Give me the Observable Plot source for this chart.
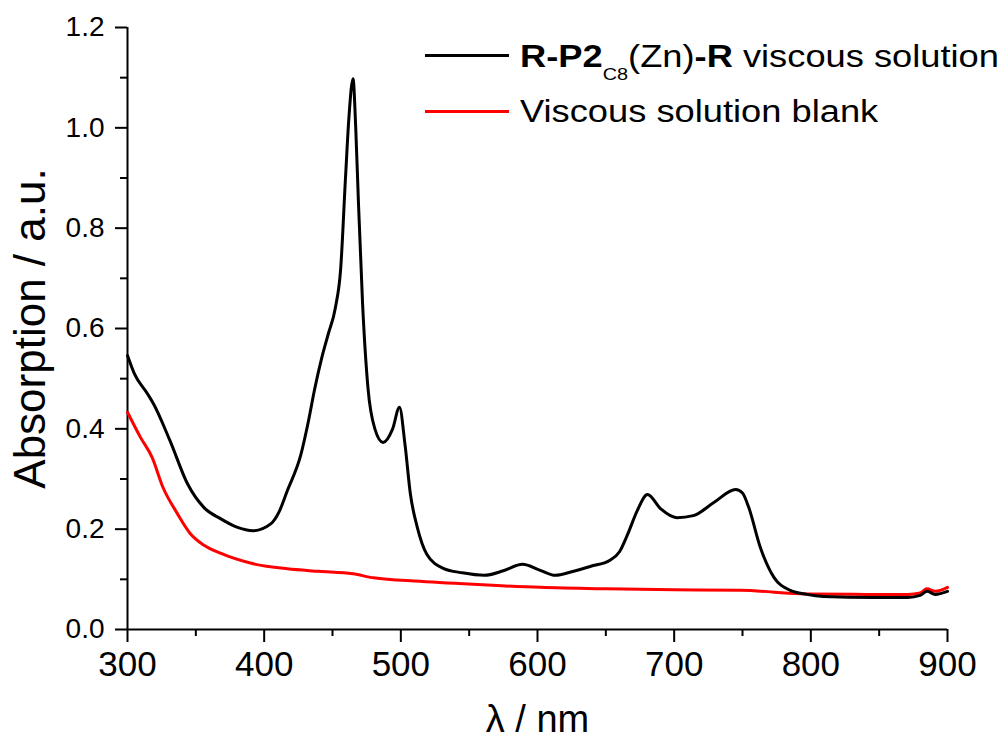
<!DOCTYPE html>
<html>
<head>
<meta charset="utf-8">
<script src="https://cdn.jsdelivr.net/npm/d3@7"></script>
<script src="https://cdn.jsdelivr.net/npm/@observablehq/plot@0.6"></script>
<style>
  body { margin: 0; background: white; }
  #wrap { position: relative; width: 1008px; height: 746px; font-family: 'Liberation Sans', Arial, sans-serif; }
  .lg-line { position: absolute; left: 425px; width: 84px; height: 3px; }
  .lg-text { position: absolute; left: 520px; font-size: 31px; line-height: 1; white-space: nowrap; transform: scaleX(1.17); transform-origin: left center; color: black; }
  .sub { font-size: 17px; position: relative; top: 13px; font-weight: normal; }
</style>
</head>
<body>
<div id="wrap"></div>
<script>
// Series: R-P2_C8(Zn)-R viscous solution (black)
const sampleX = [300, 305, 314.6, 319, 331, 344, 356, 368, 380, 392, 405, 411, 417, 427, 432, 437, 442, 447, 452, 456, 459.5, 462, 465, 467, 469, 472, 476, 481, 487, 494, 499, 503, 507, 512, 519, 531, 545, 561, 575, 589, 602, 613, 625, 639, 653, 660, 666, 673, 680.5, 690, 702, 714, 729, 745, 750, 754.6, 763, 773, 785, 797, 809, 846, 871, 880, 885, 891, 900];
const sampleY = [0.546, 0.51, 0.47, 0.45, 0.377, 0.29, 0.243, 0.221, 0.204, 0.197, 0.211, 0.235, 0.277, 0.35, 0.41, 0.48, 0.54, 0.59, 0.64, 0.72, 0.9, 1.02, 1.098, 1.0, 0.85, 0.65, 0.48, 0.40, 0.373, 0.40, 0.443, 0.37, 0.27, 0.204, 0.15, 0.122, 0.113, 0.108, 0.117, 0.13, 0.118, 0.108, 0.115, 0.126, 0.138, 0.155, 0.19, 0.237, 0.269, 0.241, 0.223, 0.227, 0.253, 0.279, 0.272, 0.243, 0.164, 0.104, 0.078, 0.07, 0.066, 0.064, 0.064, 0.068, 0.076, 0.07, 0.076];
// Series: Viscous solution blank (red)
const blankX = [300, 309.5, 318, 326, 336.5, 346, 356, 368, 392, 417, 440, 465, 480, 514, 560, 602, 650, 700, 748.5, 797.6, 840, 871, 880, 885, 891, 900];
const blankY = [0.433, 0.383, 0.343, 0.283, 0.231, 0.191, 0.168, 0.152, 0.131, 0.121, 0.116, 0.111, 0.103, 0.096, 0.089, 0.084, 0.081, 0.079, 0.078, 0.071, 0.07, 0.07, 0.073, 0.081, 0.076, 0.084];

const xMajor = [300, 400, 500, 600, 700, 800, 900];
const xMinor = [350, 450, 550, 650, 750, 850];
const yMajor = [0, 0.2, 0.4, 0.6, 0.8, 1.0, 1.2];
const yMinor = [0.1, 0.3, 0.5, 0.7, 0.9, 1.1];

const seriesNames = ["R-P2", "C8", "(Zn)", "-R", " viscous solution", "Viscous solution blank"];
const xTitle = "\u03bb / nm";
const yTitle = "Absorption / a.u.";

const chart = Plot.plot({
  width: 1008,
  height: 746,
  marginLeft: 127,
  marginRight: 61,
  marginTop: 27,
  marginBottom: 117,
  x: { domain: [300, 900] },
  y: { domain: [0, 1.2] },
  style: { fontFamily: "'Liberation Sans', Arial, sans-serif", background: "white", color: "black", overflow: "visible" },
  marks: [
    Plot.axisY({ ticks: yMajor, tickSize: 12, tickPadding: 11, tickFormat: d3.format(".1f"), fontSize: 28, strokeWidth: 2, label: null }),
    Plot.axisY({ ticks: yMinor, tickSize: 7, tickFormat: () => "", strokeWidth: 2, label: null }),
    Plot.axisX({ ticks: xMajor, tickSize: 13, tickPadding: 9, fontSize: 35, strokeWidth: 2, label: null }),
    Plot.axisX({ ticks: xMinor, tickSize: 7, tickFormat: () => "", strokeWidth: 2, label: null }),
    Plot.ruleX([300], { strokeWidth: 2 }),
    Plot.ruleY([0], { strokeWidth: 2 }),
    Plot.line(blankY, { x: blankX, y: blankY, stroke: "#ff0000", strokeWidth: 3, curve: "monotone-x" }),
    Plot.line(sampleY, { x: sampleX, y: sampleY, stroke: "black", strokeWidth: 3, curve: "monotone-x" }),
    Plot.text([yTitle], { frameAnchor: "left", dx: -97, rotate: -90, fontSize: 44, textAnchor: "middle" }),
    Plot.text([xTitle], { frameAnchor: "bottom", dy: 102, fontSize: 38, textAnchor: "middle" })
  ]
});

const wrap = document.getElementById("wrap");
wrap.appendChild(chart);

const l1 = document.createElement("div");
l1.className = "lg-line"; l1.style.top = "53.5px"; l1.style.background = "black";
const t1 = document.createElement("div");
t1.className = "lg-text"; t1.style.top = "41px";
t1.innerHTML = `<b>${seriesNames[0]}</b><span class="sub">${seriesNames[1]}</span>${seriesNames[2]}<b>${seriesNames[3]}</b>${seriesNames[4]}`;
const l2 = document.createElement("div");
l2.className = "lg-line"; l2.style.top = "109.5px"; l2.style.background = "#ff0000";
const t2 = document.createElement("div");
t2.className = "lg-text"; t2.style.top = "96px";
t2.textContent = seriesNames[5];
[l1, t1, l2, t2].forEach(e => wrap.appendChild(e));
chart.style.position = "absolute"; chart.style.left = "0"; chart.style.top = "0";
</script>
</body>
</html>
